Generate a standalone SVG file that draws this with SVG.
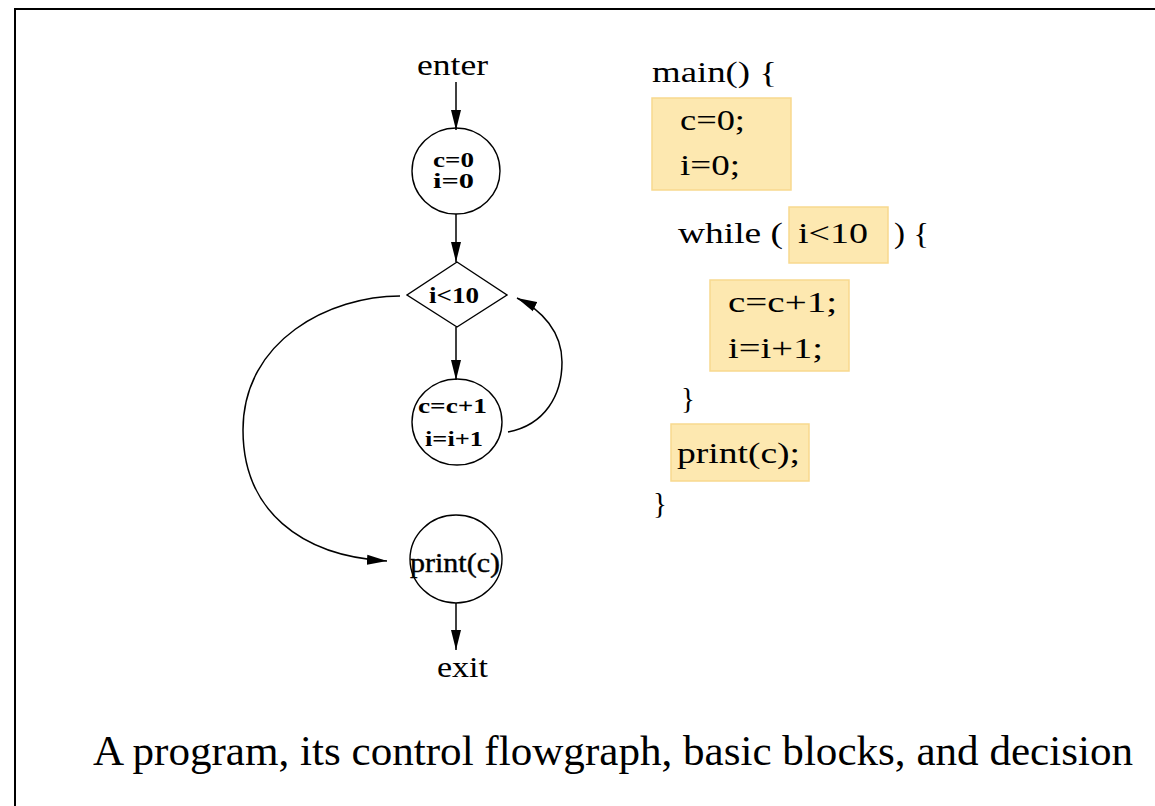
<svg xmlns="http://www.w3.org/2000/svg" width="1155" height="806" viewBox="0 0 1155 806">
<style>
.node{fill:none;stroke:#000;stroke-width:1.4}
.edge{fill:none;stroke:#000;stroke-width:1.5}
.lbl{font-family:"Liberation Serif","Times New Roman",serif;font-weight:bold;fill:#000}
.txt{font-family:"Liberation Serif","Times New Roman",serif;fill:#000}
.blk{fill:#FDE8B0;stroke:#F8D98E;stroke-width:1.5}
</style>
<defs>
<marker id="ah" markerUnits="userSpaceOnUse" markerWidth="22" markerHeight="12" refX="20" refY="6" orient="auto">
<path d="M0,1 L20,6 L0,11 Z" fill="#000"/>
</marker>
</defs>
<rect width="1155" height="806" fill="#fff"/>
<path d="M15,806 V9 H1155" fill="none" stroke="#000" stroke-width="2"/>

<g id="enter"><text class="txt" x="417" y="75" font-size="29" textLength="71" lengthAdjust="spacingAndGlyphs">enter</text></g>
<g id="n1">
<ellipse class="node" cx="456" cy="171" rx="44" ry="43"/>
<text class="lbl" x="433" y="167" font-size="20" textLength="41" lengthAdjust="spacingAndGlyphs">c=0</text>
<text class="lbl" x="433" y="188" font-size="20" textLength="41" lengthAdjust="spacingAndGlyphs">i=0</text>
</g>
<g id="d1">
<polygon class="node" points="457,262 507,295 457,327 407,295"/>
<text class="lbl" x="429" y="303" font-size="24" textLength="50" lengthAdjust="spacingAndGlyphs">i&lt;10</text>
</g>
<g id="n2">
<ellipse class="node" cx="457" cy="422" rx="45" ry="43"/>
<text class="lbl" x="418" y="413" font-size="20" textLength="69" lengthAdjust="spacingAndGlyphs">c=c+1</text>
<text class="lbl" x="425" y="446" font-size="21" textLength="58" lengthAdjust="spacingAndGlyphs">i=i+1</text>
</g>
<g id="n3">
<ellipse class="node" cx="456" cy="559" rx="46" ry="44"/>
<text class="txt" x="410" y="572" font-size="27" stroke="#000" stroke-width="0.4" textLength="90" lengthAdjust="spacingAndGlyphs">print(c)</text>
</g>
<g id="exit"><text class="txt" x="437" y="677" font-size="29" textLength="51" lengthAdjust="spacingAndGlyphs">exit</text></g>

<g id="connectors">
<path class="edge" d="M456,82 V130" marker-end="url(#ah)"/>
<path class="edge" d="M456,214 V262" marker-end="url(#ah)"/>
<path class="edge" d="M456,327 V380" marker-end="url(#ah)"/>
<path class="edge" d="M456,603 V650" marker-end="url(#ah)"/>
<path class="edge" d="M508,432 C545,425 562,395 562,362 C562,332 542,310 517,298" marker-end="url(#ah)"/>
<path class="edge" d="M400,296 C330,296 243,340 243,430 C243,510 300,556 387,561" marker-end="url(#ah)"/>
</g>

<g id="code">
<rect class="blk" x="652" y="98" width="139" height="92"/>
<rect class="blk" x="789" y="207" width="99" height="56"/>
<rect class="blk" x="710" y="280" width="139" height="91"/>
<rect class="blk" x="671" y="424" width="138" height="57"/>
<text class="txt" x="652" y="82" font-size="29" textLength="125" lengthAdjust="spacingAndGlyphs">main() {</text>
<text class="txt" x="680" y="130" font-size="29" textLength="65" lengthAdjust="spacingAndGlyphs">c=0;</text>
<text class="txt" x="680" y="175" font-size="29" textLength="60" lengthAdjust="spacingAndGlyphs">i=0;</text>
<text class="txt" x="678" y="243" font-size="29" textLength="105" lengthAdjust="spacingAndGlyphs">while (</text>
<text class="txt" x="798" y="243" font-size="29" textLength="70" lengthAdjust="spacingAndGlyphs">i&lt;10</text>
<text class="txt" x="894" y="243" font-size="29" textLength="35" lengthAdjust="spacingAndGlyphs">) {</text>
<text class="txt" x="728" y="312" font-size="29" textLength="109" lengthAdjust="spacingAndGlyphs">c=c+1;</text>
<text class="txt" x="728" y="358" font-size="29" textLength="95" lengthAdjust="spacingAndGlyphs">i=i+1;</text>
<text class="txt" x="681" y="408" font-size="29">}</text>
<text class="txt" x="677" y="463" font-size="29" textLength="123" lengthAdjust="spacingAndGlyphs">print(c);</text>
<text class="txt" x="653" y="513" font-size="29">}</text>
</g>

<g id="caption"><text class="txt" x="93" y="765" font-size="42.5" textLength="1040" lengthAdjust="spacingAndGlyphs">A program, its control flowgraph, basic blocks, and decision</text></g>
</svg>
